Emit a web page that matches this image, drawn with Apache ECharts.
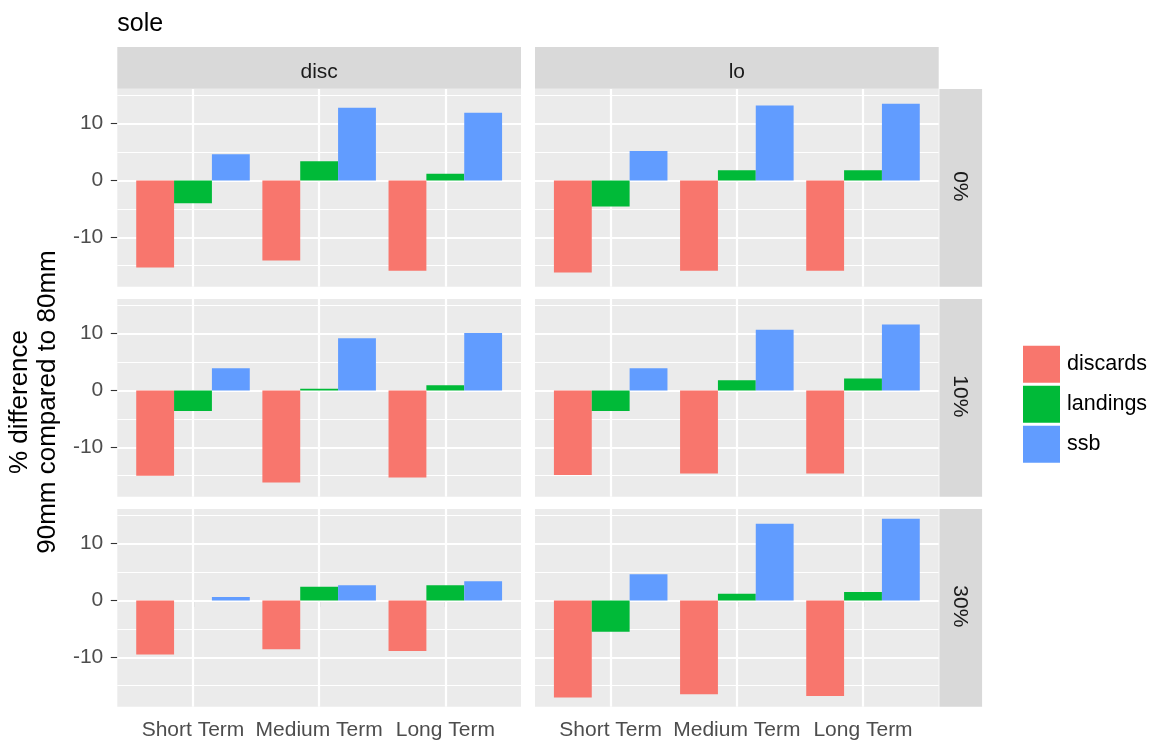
<!DOCTYPE html>
<html><head><meta charset="utf-8">
<script src="https://cdn.jsdelivr.net/npm/echarts@6/dist/echarts.min.js"></script>
<style>html,body{margin:0;padding:0;background:#fff}#main{width:1155px;height:742px}</style>
</head><body><div id="main"></div>
<script>
const chartTitle = 'sole';
const categories = ['Short Term', 'Medium Term', 'Long Term'];
const seriesNames = ['discards', 'landings', 'ssb'];
const facetColumns = ['disc', 'lo'];
const facetRows = ['0%', '10%', '30%'];
const yTickValues = [-10, 0, 10];
const yAxisTitle = '% difference\n90mm compared to 80mm';

// one inner list per facet row (0%, 10%, 30%), values per category
const discardsDisc = [[-15.3, -14.1, -15.9], [-15.0, -16.2, -15.3], [-9.5, -8.6, -8.9]];
const landingsDisc = [[-4.0, 3.4, 1.2], [-3.6, 0.3, 0.9], [0.0, 2.4, 2.7]];
const ssbDisc = [[4.6, 12.8, 11.9], [3.9, 9.2, 10.1], [0.6, 2.7, 3.4]];
const discardsLo = [[-16.2, -15.9, -15.9], [-14.9, -14.6, -14.6], [-17.1, -16.5, -16.8]];
const landingsLo = [[-4.6, 1.8, 1.8], [-3.6, 1.8, 2.1], [-5.5, 1.2, 1.5]];
const ssbLo = [[5.2, 13.2, 13.5], [3.9, 10.7, 11.6], [4.6, 13.5, 14.4]];

const valuesByColumn = [[discardsDisc, landingsDisc, ssbDisc], [discardsLo, landingsLo, ssbLo]];
const colors = ['#F8766D', '#00BA38', '#619CFF'];
const FONT = 'Liberation Sans, Arial, sans-serif';

// layout
const panelLeft = [117.3, 535];
const panelW = 403.7;
const panelTop0 = 89;
const rowStep = 210;
const panelH = 197.7;
const stripThick = 41.7;
const yMin = -18.7, yMax = 16.1;
const xMin = 0.4, xMax = categories.length + 0.6;

const grids = [], xAxes = [], yAxes = [], series = [], graphics = [];
const catPositions = categories.map((c, i) => i + 1);

// grid-line values
const hLines = [];
for (let v = Math.ceil(yMin / 5) * 5; v <= yMax; v += 5) hLines.push(v);

let idx = 0;
for (let r = 0; r < facetRows.length; r++) {
  for (let c = 0; c < facetColumns.length; c++) {
    const top = panelTop0 + r * rowStep;
    grids.push({
      left: panelLeft[c], top: top, width: panelW, height: panelH,
      show: true, backgroundColor: '#EBEBEB', borderWidth: 0, containLabel: false
    });
    const isBottom = r === facetRows.length - 1;
    const isLeft = c === 0;
    xAxes.push({
      type: 'value', gridIndex: idx, min: xMin, max: xMax,
      axisLine: { show: false }, splitLine: { show: false },
      axisTick: { show: isBottom, customValues: catPositions, length: 6.5, lineStyle: { color: '#333333', width: 1.1 } },
      axisLabel: {
        show: isBottom, customValues: catPositions, margin: 13,
        color: '#4D4D4D', fontSize: 21, fontFamily: FONT,
        formatter: v => categories[Math.round(v) - 1] || ''
      }
    });
    yAxes.push({
      type: 'value', gridIndex: idx, min: yMin, max: yMax,
      axisLine: { show: false }, splitLine: { show: false },
      axisTick: { show: isLeft, customValues: yTickValues, length: 6.5, lineStyle: { color: '#333333', width: 1.1 } },
      axisLabel: {
        show: isLeft, customValues: yTickValues, margin: 14,
        color: '#4D4D4D', fontSize: 21, fontFamily: FONT, padding: [3, 0, 0, 0],
        formatter: v => String(v)
      }
    });
    // gridlines
    const mlData = [];
    hLines.forEach(v => mlData.push({ yAxis: v, lineStyle: { width: (v % 10 === 0) ? 2.2 : 1.1 } }));
    catPositions.forEach(p => mlData.push({ xAxis: p, lineStyle: { width: 2.2 } }));
    series.push({
      type: 'line', name: '__grid' + idx, xAxisIndex: idx, yAxisIndex: idx, data: [], z: 0, silent: true,
      markLine: {
        z: 1, silent: true, symbol: ['none', 'none'], animation: false,
        label: { show: false }, emphasis: { disabled: true },
        lineStyle: { color: '#FFFFFF', type: 'solid', opacity: 1 },
        data: mlData
      }
    });
    // bars
    seriesNames.forEach((name, s) => {
      const vals = valuesByColumn[c][s][r];
      series.push({
        type: 'bar', name: name, xAxisIndex: idx, yAxisIndex: idx, z: 2,
        barGap: '0%', barCategoryGap: '10%',
        itemStyle: { color: colors[s] },
        data: vals.map((v, i) => [catPositions[i], v])
      });
    });
    idx++;
  }
}

// column strips
facetColumns.forEach((name, c) => {
  graphics.push({ type: 'rect', shape: { x: panelLeft[c], y: panelTop0 - stripThick - 0.3, width: panelW, height: stripThick }, style: { fill: '#D9D9D9' }, silent: true });
  graphics.push({ type: 'text', x: panelLeft[c] + panelW / 2, y: 72, style: { text: name, fill: '#1A1A1A', fontSize: 21, fontFamily: FONT, align: 'center', verticalAlign: 'middle' }, silent: true });
});
// row strips
const stripX = panelLeft[1] + panelW + 0.7;
facetRows.forEach((name, r) => {
  const top = panelTop0 + r * rowStep;
  graphics.push({ type: 'rect', shape: { x: stripX, y: top, width: stripThick + 1, height: panelH }, style: { fill: '#D9D9D9' }, silent: true });
  graphics.push({ type: 'text', x: 959.5, y: top + panelH / 2 - 1.5, rotation: -Math.PI / 2, style: { text: name, fill: '#1A1A1A', fontSize: 21, fontFamily: FONT, align: 'center', verticalAlign: 'middle' }, silent: true });
});
// title
graphics.push({ type: 'text', x: 117.3, y: 24.5, style: { text: chartTitle, fill: '#000000', fontSize: 25, fontFamily: FONT, align: 'left', verticalAlign: 'middle' }, silent: true });
// y axis title
graphics.push({ type: 'text', x: 34, y: 402, rotation: Math.PI / 2, style: { text: yAxisTitle, fill: '#000000', fontSize: 26, lineHeight: 28.5, fontFamily: FONT, align: 'center', verticalAlign: 'middle' }, silent: true });

const chart = echarts.init(document.getElementById('main'), null, { renderer: 'canvas' });
chart.setOption({
  animation: false,
  backgroundColor: '#FFFFFF',
  textStyle: { fontFamily: FONT },
  grid: grids,
  xAxis: xAxes,
  yAxis: yAxes,
  legend: {
    data: seriesNames, orient: 'vertical', left: 1023, top: 345.7, padding: 0,
    icon: 'rect', itemWidth: 37, itemHeight: 37, itemGap: 3,
    textStyle: { fontSize: 21.5, color: '#000000', fontFamily: FONT, padding: [5, 0, 0, 2] },
    selectedMode: false
  },
  graphic: { elements: graphics },
  series: series
});
</script>
</body></html>
